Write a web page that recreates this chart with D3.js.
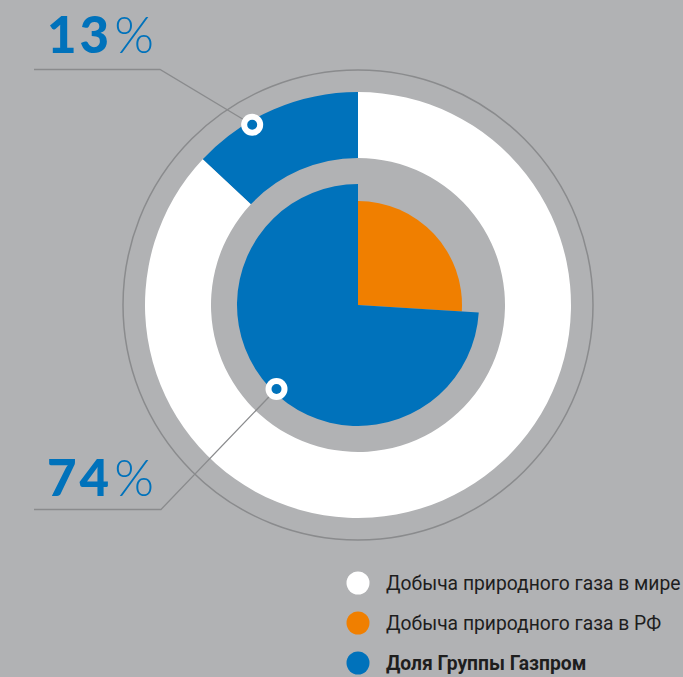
<!DOCTYPE html>
<html><head><meta charset="utf-8">
<script src="https://cdn.jsdelivr.net/npm/d3@7"></script>
<style>html,body{margin:0;padding:0;background:#b1b2b4;overflow:hidden}</style>
</head><body>
<svg id="c" width="683" height="677"></svg>
<script>
// ---- data ----
const worldCategories = ["Доля Группы Газпром", "Прочие"];
const worldValues = [13, 87];           // share of world gas production
const rfCategories = ["Прочие в РФ", "Доля Группы Газпром"];
const rfValues = [26, 74];              // share of Russian gas production
const calloutLabels = ["13", "74"];
const legendLabels = ["Добыча природного газа в мире", "Добыча природного газа в РФ", "Доля Группы Газпром"];

// ---- style ----
const BG = "#b1b2b4", BLUE = "#0072bb", ORANGE = "#f07f00", WHITE = "#ffffff", LINE = "#8a8b8d";
const svg = d3.select("#c");
svg.append("rect").attr("width", 683).attr("height", 677).attr("fill", BG);
const cx = 358, cy = 305;
const g = svg.append("g").attr("transform", `translate(${cx},${cy})`);

// outer guide circle
g.append("circle").attr("r", 235).attr("fill", "none").attr("stroke", LINE).attr("stroke-width", 1.5);

// outer donut (world)
const worldStart = -2 * Math.PI * worldValues[0] / d3.sum(worldValues);
const outerPie = d3.pie().sort(null).startAngle(worldStart).endAngle(worldStart + 2 * Math.PI);
const outerArcs = outerPie(worldValues);
const outerArc = d3.arc().innerRadius(147).outerRadius(213);
g.selectAll("path.outer").data(outerArcs).join("path").attr("class", "outer")
  .attr("d", outerArc).attr("fill", (d, i) => i === 0 ? BLUE : WHITE);

// inner pie (RF)
const innerPie = d3.pie().sort(null);
const innerArcs = innerPie(rfValues);
const radii = [104, 121];
const innerArc = d3.arc().innerRadius(0).outerRadius((d) => radii[d.index]);
g.selectAll("path.inner").data(innerArcs).join("path").attr("class", "inner")
  .attr("d", innerArc).attr("fill", (d, i) => i === 0 ? ORANGE : BLUE);

// markers & leader lines
function polar(a, r) { return [cx + r * Math.sin(a), cy - r * Math.cos(a)]; }
const o0 = outerArcs[0];
const m1 = polar(o0.startAngle + 0.35 * (o0.endAngle - o0.startAngle), 209);
const i1 = innerArcs[1];
const m2 = polar(i1.startAngle + 0.49 * (i1.endAngle - i1.startAngle), 117);

const leaders = [
  {m: m1, elbow: [160, 69.5], end: 34},
  {m: m2, elbow: [161, 509.5], end: 34}
];
leaders.forEach(l => {
  svg.append("path")
    .attr("d", `M${l.m[0]},${l.m[1]}L${l.elbow[0]},${l.elbow[1]}L${l.end},${l.elbow[1]}`)
    .attr("fill", "none").attr("stroke", LINE).attr("stroke-width", 1.3);
});
[m1, m2].forEach(m => {
  svg.append("circle").attr("cx", m[0]).attr("cy", m[1]).attr("r", 11).attr("fill", WHITE);
  svg.append("circle").attr("cx", m[0]).attr("cy", m[1]).attr("r", 5).attr("fill", BLUE);
});

// callout numbers
const callY = [53, 496];
calloutLabels.forEach((t, i) => {
  const tx = svg.append("text").attr("x", 47).attr("y", callY[i])
    .attr("fill", BLUE).attr("font-family", "Lato, 'Open Sans', sans-serif").attr("font-size", 51);
  tx.append("tspan").attr("font-weight", 900).attr("letter-spacing", 3).text(t);
  tx.append("tspan").attr("font-weight", 300).attr("dx", 2).text("%");
});

// legend
const legColors = [WHITE, ORANGE, BLUE];
const legY = [583, 623, 663];
legendLabels.forEach((t, i) => {
  svg.append("circle").attr("cx", 358).attr("cy", legY[i]).attr("r", 11.5).attr("fill", legColors[i]);
  svg.append("text").attr("x", 386).attr("y", legY[i] + 6.5)
    .attr("font-family", "Roboto, sans-serif").attr("font-size", 19.3)
    .attr("font-weight", i === 2 ? 700 : 400).attr("fill", "#1e1e1e").text(t);
});
</script>
</body></html>
